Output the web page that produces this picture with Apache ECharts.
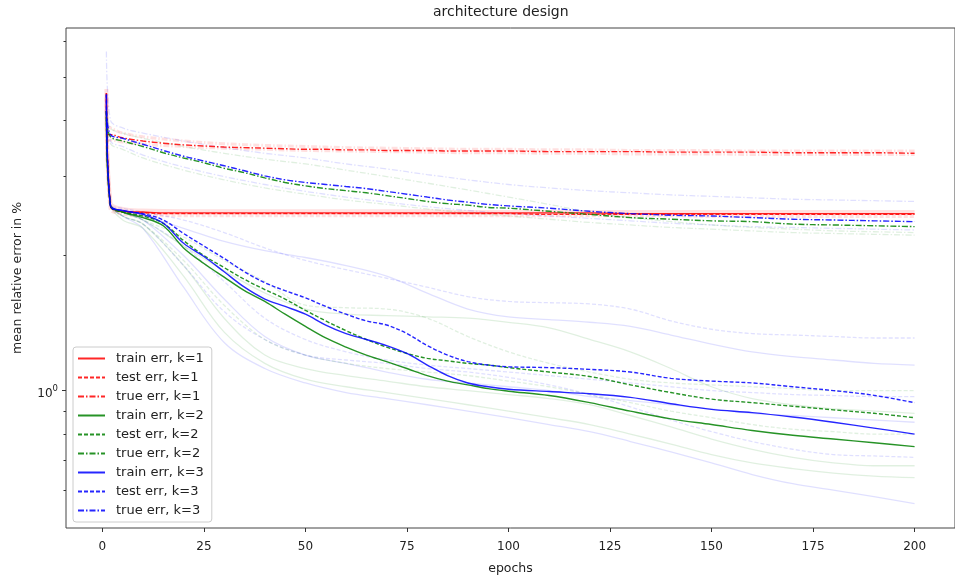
<!DOCTYPE html>
<html>
<head>
<meta charset="utf-8">
<script src="https://cdn.jsdelivr.net/npm/echarts@6/dist/echarts.min.js"></script>
<style>
  html, body { margin: 0; padding: 0; background: #fff; }
  #chart { width: 955px; height: 580px; }
</style>
</head>
<body>
<div id="chart"></div>
<script>
const epochs = [1, 2, 5, 10, 15, 20, 25, 30, 35, 40, 45, 50, 55, 60, 65, 70, 75, 80, 85, 90, 95, 100,
  110, 120, 130, 140, 150, 160, 170, 180, 190, 200]

const trainK1 = [4.6, 2.58, 2.51, 2.5, 2.49, 2.49, 2.49, 2.49, 2.49, 2.49, 2.49, 2.49, 2.49, 2.49, 2.49, 2.49,
  2.49, 2.49, 2.49, 2.49, 2.49, 2.49, 2.49, 2.49, 2.48, 2.48, 2.48, 2.48, 2.48, 2.48, 2.48, 2.48]
const testK1 = [4.6, 2.58, 2.5, 2.49, 2.48, 2.48, 2.48, 2.48, 2.48, 2.48, 2.48, 2.48, 2.48, 2.48, 2.48, 2.48,
  2.48, 2.48, 2.48, 2.48, 2.48, 2.48, 2.47, 2.47, 2.47, 2.47, 2.47, 2.47, 2.47, 2.47, 2.47, 2.47]
const trueK1 = [3.72, 3.72, 3.66, 3.6, 3.56, 3.53, 3.51, 3.49, 3.48, 3.47, 3.46, 3.45, 3.45, 3.44, 3.44, 3.43,
  3.43, 3.43, 3.42, 3.42, 3.42, 3.42, 3.41, 3.41, 3.41, 3.4, 3.4, 3.4, 3.39, 3.39, 3.39, 3.38]

const trainK2 = [4.2, 2.58, 2.5, 2.43, 2.33, 2.08, 1.92, 1.79, 1.67, 1.58, 1.48, 1.39, 1.31, 1.25, 1.2, 1.16,
  1.12, 1.08, 1.05, 1.03, 1.01, 0.997, 0.975, 0.94, 0.9, 0.865, 0.84, 0.815, 0.795, 0.78, 0.765, 0.75]
const testK2 = [4.2, 2.58, 2.5, 2.45, 2.36, 2.16, 2.0, 1.88, 1.77, 1.68, 1.6, 1.51, 1.43, 1.36, 1.3, 1.25,
  1.21, 1.18, 1.165, 1.15, 1.14, 1.125, 1.1, 1.075, 1.03, 0.99, 0.957, 0.94, 0.923, 0.906, 0.89, 0.87]
const trueK2 = [4.0, 3.68, 3.6, 3.5, 3.39, 3.3, 3.22, 3.13, 3.06, 2.98, 2.91, 2.86, 2.82, 2.79, 2.76, 2.72,
  2.68, 2.64, 2.61, 2.59, 2.56, 2.55, 2.51, 2.47, 2.43, 2.41, 2.39, 2.38, 2.35, 2.34, 2.33, 2.32]

const trainK3 = [4.57, 2.58, 2.52, 2.47, 2.36, 2.13, 1.99, 1.84, 1.7, 1.6, 1.54, 1.48, 1.4, 1.34, 1.3, 1.26,
  1.21, 1.14, 1.08, 1.04, 1.02, 1.007, 0.995, 0.984, 0.966, 0.935, 0.908, 0.893, 0.873, 0.85, 0.825, 0.8]
const testK3 = [4.57, 2.58, 2.52, 2.48, 2.4, 2.24, 2.1, 1.97, 1.84, 1.74, 1.67, 1.61, 1.54, 1.48, 1.43, 1.4,
  1.34, 1.26, 1.2, 1.16, 1.14, 1.13, 1.125, 1.115, 1.1, 1.065, 1.05, 1.04, 1.02, 1.0, 0.976, 0.94]
const trueK3 = [4.2, 3.72, 3.65, 3.54, 3.43, 3.33, 3.25, 3.17, 3.09, 3.01, 2.95, 2.91, 2.88, 2.85, 2.82, 2.78,
  2.74, 2.7, 2.66, 2.63, 2.6, 2.58, 2.55, 2.51, 2.48, 2.46, 2.45, 2.43, 2.41, 2.4, 2.39, 2.38]

// single runs drawn faintly behind the means
const runEpochs = [1, 2, 5, 10, 20, 30, 40, 50, 60, 70, 80, 90, 100, 110, 120, 130, 140, 150, 160, 170, 180, 190, 200]

const runTrainK3a = [4.6, 2.6, 2.5, 2.45, 2.3, 2.15, 2.05, 1.98, 1.9, 1.8, 1.65, 1.52, 1.46, 1.44, 1.42, 1.39, 1.33, 1.27, 1.22, 1.19, 1.17, 1.15, 1.14]
const runTrainK3b = [4.6, 2.6, 2.45, 2.3, 1.7, 1.28, 1.12, 1.04, 0.99, 0.96, 0.93, 0.9, 0.87, 0.84, 0.81, 0.77, 0.73, 0.69, 0.65, 0.62, 0.6, 0.58, 0.56]
const runTrainK3c = [4.6, 2.6, 2.5, 2.4, 2.0, 1.6, 1.32, 1.2, 1.15, 1.1, 1.06, 1.04, 1.02, 1.0, 0.97, 0.95, 0.93, 0.91, 0.89, 0.88, 0.87, 0.86, 0.85]
const runTestK3a = [4.6, 2.6, 2.55, 2.5, 2.4, 2.25, 2.08, 1.95, 1.86, 1.78, 1.7, 1.62, 1.58, 1.57, 1.56, 1.52, 1.43, 1.37, 1.34, 1.33, 1.32, 1.31, 1.31]
const runTestK3b = [4.6, 2.6, 2.45, 2.35, 1.9, 1.5, 1.3, 1.2, 1.17, 1.15, 1.12, 1.1, 1.07, 1.03, 0.98, 0.92, 0.86, 0.81, 0.77, 0.74, 0.72, 0.715, 0.71]
const runTestK3c = [4.6, 2.6, 2.5, 2.4, 2.1, 1.75, 1.45, 1.3, 1.22, 1.17, 1.14, 1.12, 1.1, 1.08, 1.06, 1.04, 1.02, 1.0, 0.99, 0.98, 0.975, 0.97, 0.97]
const runTrueK3a = [5.7, 4.0, 3.85, 3.75, 3.6, 3.48, 3.38, 3.3, 3.2, 3.12, 3.03, 2.95, 2.88, 2.83, 2.79, 2.76, 2.73, 2.71, 2.69, 2.67, 2.66, 2.65, 2.64]
const runTrueK3b = [4.6, 3.6, 3.5, 3.35, 3.15, 3.0, 2.88, 2.78, 2.7, 2.63, 2.57, 2.52, 2.48, 2.45, 2.42, 2.39, 2.36, 2.34, 2.32, 2.31, 2.3, 2.29, 2.28]

const runTrainK2a = [4.2, 2.6, 2.45, 2.35, 1.9, 1.45, 1.2, 1.12, 1.08, 1.05, 1.02, 1.0, 0.98, 0.96, 0.93, 0.88, 0.83, 0.78, 0.74, 0.71, 0.69, 0.68, 0.68]
const runTrainK2b = [4.2, 2.6, 2.4, 2.3, 1.8, 1.35, 1.15, 1.06, 1.02, 0.99, 0.96, 0.93, 0.9, 0.87, 0.84, 0.8, 0.76, 0.72, 0.69, 0.67, 0.655, 0.645, 0.64]
const runTrainK2c = [4.2, 2.6, 2.5, 2.4, 2.1, 1.85, 1.65, 1.52, 1.48, 1.47, 1.46, 1.45, 1.42, 1.38, 1.3, 1.22, 1.12, 1.02, 0.96, 0.93, 0.91, 0.9, 0.89]
const runTestK2a = [4.2, 2.6, 2.5, 2.4, 2.2, 1.95, 1.75, 1.55, 1.53, 1.52, 1.45, 1.32, 1.22, 1.15, 1.1, 1.06, 1.04, 1.03, 1.02, 1.01, 1.0, 1.0, 1.0]
const runTestK2b = [4.2, 2.6, 2.45, 2.35, 1.95, 1.55, 1.3, 1.2, 1.15, 1.12, 1.1, 1.08, 1.05, 1.02, 0.98, 0.94, 0.9, 0.87, 0.84, 0.82, 0.81, 0.8, 0.8]
const runTrueK2a = [4.3, 3.85, 3.75, 3.65, 3.5, 3.38, 3.28, 3.2, 3.1, 3.0, 2.9, 2.8, 2.7, 2.6, 2.5, 2.43, 2.38, 2.34, 2.31, 2.29, 2.27, 2.26, 2.25]
const runTrueK2b = [4.0, 3.55, 3.45, 3.3, 3.1, 2.95, 2.83, 2.74, 2.66, 2.6, 2.54, 2.49, 2.45, 2.41, 2.37, 2.34, 2.31, 2.29, 2.27, 2.25, 2.24, 2.23, 2.22]

const runTrainK1 = [4.7, 2.62, 2.54, 2.52, 2.51, 2.51, 2.51, 2.51, 2.51, 2.51, 2.51, 2.5, 2.5, 2.5, 2.5, 2.5, 2.5, 2.5, 2.5, 2.5, 2.5, 2.5, 2.5]
const runTestK1 = [4.5, 2.55, 2.48, 2.46, 2.46, 2.46, 2.46, 2.46, 2.46, 2.46, 2.46, 2.46, 2.46, 2.46, 2.46, 2.46, 2.46, 2.45, 2.45, 2.45, 2.45, 2.45, 2.45]
const runTrueK1a = [3.9, 3.85, 3.75, 3.68, 3.6, 3.55, 3.52, 3.5, 3.48, 3.47, 3.46, 3.45, 3.45, 3.44, 3.44, 3.43, 3.43, 3.43, 3.42, 3.42, 3.42, 3.42, 3.42]
const runTrueK1b = [3.6, 3.62, 3.58, 3.54, 3.5, 3.47, 3.45, 3.43, 3.42, 3.41, 3.4, 3.39, 3.39, 3.38, 3.38, 3.37, 3.37, 3.37, 3.36, 3.36, 3.36, 3.36, 3.36]

const xTicks = [0, 25, 50, 75, 100, 125, 150, 175, 200]
const yMajorTicks = [1]
const yMinorTicks = [0.6, 0.7, 0.8, 0.9, 2, 3, 4, 5, 6]
const yMin = 0.494
const yMax = 6.43

const RED = '#ff0000'
const GREEN = '#008000'
const BLUE = '#0000ff'
const DASHED = [4, 2]
const DASHDOT = [6, 2, 1.5, 2]

const pairs = (xs, ys) => xs.map((x, i) => [x, ys[i]])

function mean(name, ys, color, type) {
  return {
    name,
    type: 'line',
    data: pairs(epochs, ys),
    symbol: 'none',
    smooth: 0.35,
    z: 5,
    lineStyle: { color, width: 1.4, type, opacity: 0.85 },
    itemStyle: { color },
  }
}

function run(ys, color, type, width) {
  return {
    name: 'run',
    type: 'line',
    data: pairs(runEpochs, ys),
    symbol: 'none',
    smooth: 0.35,
    silent: true,
    z: 1,
    lineStyle: { color, width: width || 1.3, type, opacity: 0.12 },
  }
}

const chart = echarts.init(document.getElementById('chart'))

chart.setOption({
  animation: false,
  backgroundColor: '#fff',
  textStyle: { fontFamily: 'DejaVu Sans' },
  title: {
    text: 'architecture design',
    left: 433,
    top: 5,
    padding: 0,
    textStyle: { fontSize: 14, fontWeight: 'normal', color: '#222' },
  },
  grid: { left: 66, top: 28, width: 890, height: 511, show: true, borderColor: '#444', borderWidth: 1 },
  legend: {
    data: ['train err, k=1', 'test err, k=1', 'true err, k=1', 'train err, k=2', 'test err, k=2',
      'true err, k=2', 'train err, k=3', 'test err, k=3', 'true err, k=3'],
    orient: 'vertical',
    left: 73,
    top: 347,
    padding: [5, 8, 5, 4],
    itemWidth: 27,
    itemHeight: 14,
    itemGap: 6,
    itemStyle: { opacity: 0 },
    backgroundColor: '#fff',
    borderColor: '#ccc',
    borderWidth: 1,
    borderRadius: 3,
    textStyle: { fontSize: 13, color: '#222', padding: [0, 0, 0, 6] },
  },
  xAxis: {
    type: 'value',
    min: -8.95,
    max: 209.95,
    name: 'epochs',
    nameLocation: 'middle',
    nameGap: 34,
    nameTextStyle: { fontSize: 12.5, color: '#222' },
    axisLine: { show: false, onZero: false },
    axisTick: { customValues: xTicks, length: 4, lineStyle: { color: '#333' } },
    axisLabel: { customValues: xTicks, margin: 13, fontSize: 12, color: '#222' },
    splitLine: { show: false },
  },
  yAxis: [
    {
      type: 'log',
      logBase: 10,
      min: yMin,
      max: yMax,
      position: 'left',
      axisLine: { show: false, onZero: false },
      axisTick: { show: false },
      axisLabel: { show: false },
      splitLine: { show: false },
    },
    {
      type: 'value',
      min: Math.log10(yMin),
      max: Math.log10(yMax),
      position: 'left',
      name: 'mean relative error in %',
      nameLocation: 'middle',
      nameGap: 42,
      nameTextStyle: { fontSize: 12.5, color: '#222' },
      axisLine: { show: false, onZero: false },
      axisTick: { customValues: yMajorTicks.map(Math.log10), length: 4, lineStyle: { color: '#333' } },
      axisLabel: {
        customValues: yMajorTicks.map(Math.log10),
        formatter: (v) => '{b|10}{s|' + Math.round(v) + '}',
        margin: 8,
        rich: {
          b: { fontSize: 12, color: '#222', padding: [6, 0, 0, 0] },
          s: { fontSize: 8.5, color: '#222', padding: [0, 0, 4, 0] },
        },
      },
      splitLine: { show: false },
    },
    {
      type: 'value',
      min: Math.log10(yMin),
      max: Math.log10(yMax),
      position: 'left',
      axisLine: { show: false, onZero: false },
      axisTick: { customValues: yMinorTicks.map(Math.log10), length: 2.5, lineStyle: { color: '#333' } },
      axisLabel: { show: false },
      splitLine: { show: false },
    },
  ],
  series: [
    run(runTrainK1, RED, 'solid', 4),
    run(runTestK1, RED, DASHED, 4),
    run(runTrueK1a, RED, DASHDOT, 3),
    run(runTrueK1b, RED, DASHDOT, 3),
    run(runTrainK3a, BLUE, 'solid'),
    run(runTrainK3b, BLUE, 'solid'),
    run(runTrainK3c, BLUE, 'solid'),
    run(runTestK3a, BLUE, DASHED),
    run(runTestK3b, BLUE, DASHED),
    run(runTestK3c, BLUE, DASHED),
    run(runTrueK3a, BLUE, DASHDOT),
    run(runTrueK3b, BLUE, DASHDOT),
    run(runTrainK2a, GREEN, 'solid'),
    run(runTrainK2b, GREEN, 'solid'),
    run(runTrainK2c, GREEN, 'solid'),
    run(runTestK2a, GREEN, DASHED),
    run(runTestK2b, GREEN, DASHED),
    run(runTrueK2a, GREEN, DASHDOT),
    run(runTrueK2b, GREEN, DASHDOT),
    mean('train err, k=1', trainK1, RED, 'solid'),
    mean('test err, k=1', testK1, RED, DASHED),
    mean('true err, k=1', trueK1, RED, DASHDOT),
    mean('train err, k=2', trainK2, GREEN, 'solid'),
    mean('test err, k=2', testK2, GREEN, DASHED),
    mean('true err, k=2', trueK2, GREEN, DASHDOT),
    mean('train err, k=3', trainK3, BLUE, 'solid'),
    mean('test err, k=3', testK3, BLUE, DASHED),
    mean('true err, k=3', trueK3, BLUE, DASHDOT),
  ],
})
</script>
</body>
</html>
